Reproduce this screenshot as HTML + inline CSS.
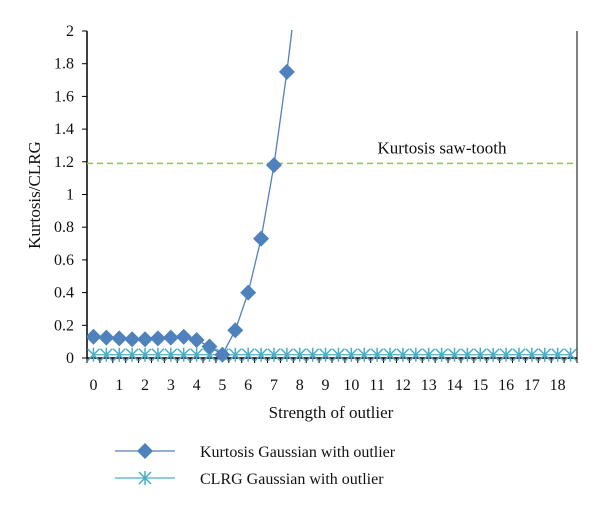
<!DOCTYPE html>
<html><head><meta charset="utf-8"><style>
body{margin:0;background:#fff;width:600px;height:509px;overflow:hidden}
text{font-family:"Liberation Serif",serif;fill:#111}
</style></head><body>
<svg id="c" width="600" height="509">
<defs><clipPath id="clip"><rect x="87" y="30" width="491" height="340"/></clipPath></defs>
</svg>
<script>
const categories=[0,0.5,1,1.5,2,2.5,3,3.5,4,4.5,5,5.5,6,6.5,7,7.5,8,8.5,9,9.5,10,10.5,11,11.5,12,12.5,13,13.5,14,14.5,15,15.5,16,16.5,17,17.5,18,18.5];
const kurtosis=[0.13,0.125,0.12,0.115,0.115,0.12,0.125,0.13,0.11,0.07,0.02,0.17,0.40,0.73,1.18,1.75,2.4,3,3,3,3,3,3,3,3,3,3,3,3,3,3,3,3,3,3,3,3,3];
const clrg=categories.map(()=>0.02);
const sawTooth=[1.19];
const yTicks=[0,0.2,0.4,0.6,0.8,1,1.2,1.4,1.6,1.8,2];
const xLabels=[0,1,2,3,4,5,6,7,8,9,10,11,12,13,14,15,16,17,18];
const X0=87,X1=577,Y0=358,Y1=31;
const cw=(X1-X0)/categories.length;
const xs=i=>X0+(i+0.5)*cw;
const ys=v=>Y0-(v/2)*(Y0-Y1);
const svg=document.getElementById('c');
const NS='http://www.w3.org/2000/svg';
function mk(t,a,p){const e=document.createElementNS(NS,t);for(const k in a)e.setAttribute(k,a[k]);(p||svg).appendChild(e);return e;}
let e=mk('line',{x1:X0,y1:Y1,x2:X0,y2:Y0,stroke:'#000','stroke-width':1.5});


e=mk('line',{x1:X1,y1:Y1,x2:X1,y2:Y0,stroke:'#000','stroke-width':1});


e=mk('line',{x1:X0,y1:Y0,x2:X1,y2:Y0,stroke:'#000','stroke-width':1.5});


yTicks.forEach(v=>{
 mk('line',{x1:X0-5,y1:ys(v),x2:X0,y2:ys(v),stroke:'#000'});
 const t=mk('text',{x:X0-13,y:ys(v)+5,'text-anchor':'end','font-size':16});
 t.textContent=v;
 
 
});
for(let i=0;i<=categories.length;i++){mk('line',{x1:X0+i*cw,y1:Y0,x2:X0+i*cw,y2:Y0+5,stroke:'#000'});}
xLabels.forEach(v=>{
 const i=categories.indexOf(v);
 const t=mk('text',{x:xs(i),y:Y0+32,'text-anchor':'middle','font-size':16});
 t.textContent=v;
 
 
});
e=mk('line',{x1:X0,y1:ys(sawTooth[0]),x2:X1,y2:ys(sawTooth[0]),stroke:'#8cc45c','stroke-width':1.5,'stroke-dasharray':'6,4'});


e=mk('text',{x:442,y:ys(sawTooth[0])-10,'text-anchor':'middle','font-size':17});
e.textContent='Kurtosis saw-tooth';


const g=mk('g',{'clip-path':'url(#clip)'});
const cg=mk('g',{},g);


mk('polyline',{points:clrg.map((v,i)=>xs(i)+','+ys(v)).join(' '),fill:'none',stroke:'#4bacc6','stroke-width':1.3},cg);
clrg.forEach((v,i)=>{const x=xs(i),y=ys(v);const m=mk('path',{d:`M${x-6} ${y-6}L${x+6} ${y+6}M${x-6} ${y+6}L${x+6} ${y-6}M${x} ${y-7}V${y+7}`,stroke:'#4bacc6','stroke-width':1.5},cg);
 
 });
const kg=mk('g',{},g);


mk('polyline',{points:kurtosis.map((v,i)=>xs(i)+','+ys(v)).join(' '),fill:'none',stroke:'#4f81bd','stroke-width':1.3},kg);
kurtosis.forEach((v,i)=>{const x=xs(i),y=ys(v);const m=mk('path',{d:`M${x} ${y-8}L${x+8} ${y}L${x} ${y+8}L${x-8} ${y}Z`,fill:'#4f81bd'},kg);
 
 });
</script>
<svg style="position:absolute;left:0;top:0" width="600" height="509">
<text transform="translate(40,195) rotate(-90)" text-anchor="middle" font-size="17">Kurtosis/CLRG</text>
<text x="331" y="418" text-anchor="middle" font-size="17">Strength of outlier</text>
<g>
<line x1="115" y1="451" x2="175" y2="451" stroke="#4f81bd" stroke-width="1.3"/>
<path d="M145 443L153 451L145 459L137 451Z" fill="#4f81bd"/>
<text x="200" y="457" font-size="16">Kurtosis Gaussian with outlier</text></g>
<g>
<line x1="115" y1="478" x2="175" y2="478" stroke="#4bacc6" stroke-width="1.3"/>
<path d="M139 472L151 484M139 484L151 472M145 471V485" stroke="#4bacc6" stroke-width="1.5"/>
<text x="200" y="484" font-size="16">CLRG Gaussian with outlier</text></g>
</svg>
</body></html>
